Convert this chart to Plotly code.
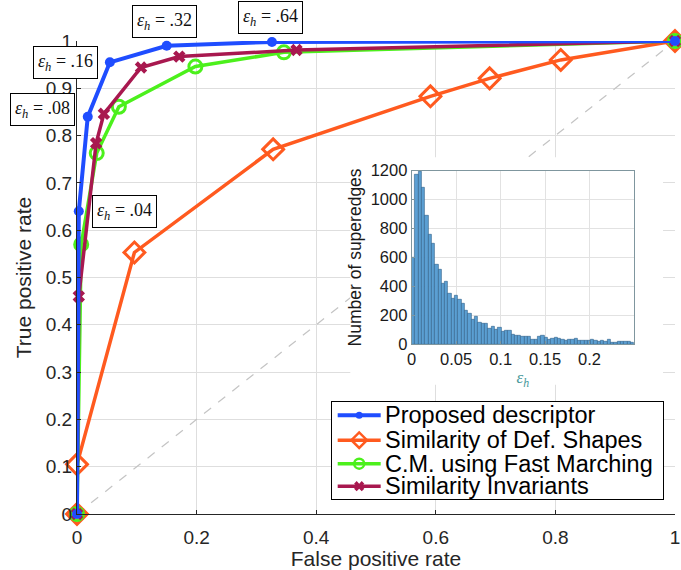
import numpy as np
import plotly.graph_objects as go

# ROC curves (false positive rate, true positive rate)
fpr_proposed = [0, 0.003, 0.018, 0.055, 0.15, 0.326, 1]
tpr_proposed = [0, 0.64, 0.84, 0.955, 0.99, 0.998, 1]

fpr_defshapes = [0, 0.0, 0.096, 0.328, 0.591, 0.69, 0.809, 1]
tpr_defshapes = [0, 0.105, 0.553, 0.771, 0.883, 0.921, 0.96, 1]

fpr_fastmarch = [0, 0.007, 0.033, 0.07, 0.198, 0.346, 1]
tpr_fastmarch = [0, 0.57, 0.763, 0.861, 0.946, 0.976, 1]

fpr_invariants = [0, 0.003, 0.032, 0.045, 0.107, 0.171, 0.367, 1]
tpr_invariants = [0, 0.46, 0.784, 0.846, 0.944, 0.967, 0.981, 1]

series_names = ["Proposed descriptor", "Similarity of Def. Shapes",
                "C.M. using Fast Marching", "Similarity Invariants"]

# threshold labels for points 1..5 of the proposed descriptor curve
eps_labels = [".04", ".08", ".16", ".32", ".64"]
eps_shift = [(46, 0), (-45, 7), (-44, 0), (-2, 24), (-1, 24)]

# histogram of epsilon_h over superedges (counts per bin, bins span 0..0.25)
eps_counts = [600, 1175, 1190, 1080, 890, 755, 695, 548, 515, 420,
              430, 352, 318, 336, 306, 283, 233, 210, 173, 191,
              152, 145, 143, 110, 122, 104, 115, 88, 92, 92,
              64, 58, 60, 53, 55, 52, 32, 35, 50, 58,
              45, 32, 40, 45, 40, 35, 28, 34, 30, 36,
              28, 22, 27, 25, 30, 22, 18, 26, 20, 33,
              8, 10, 16, 18, 15, 17, 14]
eps_range = (0.0, 0.25)

edges = np.linspace(eps_range[0], eps_range[1], len(eps_counts) + 1)
centers = 0.5 * (edges[:-1] + edges[1:])
bin_w = edges[1] - edges[0]

C_BLUE = "#1f4dff"
C_ORANGE = "#ff5a1f"
C_GREEN = "#4cf01c"
C_CRIMSON = "#a8184f"
AX = "#262626"
GRID = "#dedede"

styles = {
    "Proposed descriptor": dict(color=C_BLUE, width=4, symbol="circle", size=10, lw=0, ksize=7),
    "Similarity of Def. Shapes": dict(color=C_ORANGE, width=3.5, symbol="diamond-open", size=16, lw=3, ksize=12),
    "C.M. using Fast Marching": dict(color=C_GREEN, width=3.5, symbol="circle-open", size=13, lw=3, ksize=10),
    "Similarity Invariants": dict(color=C_CRIMSON, width=3.5, symbol="x", size=11, lw=0, ksize=9),
}
curves = {
    "Proposed descriptor": (fpr_proposed, tpr_proposed),
    "Similarity of Def. Shapes": (fpr_defshapes, tpr_defshapes),
    "C.M. using Fast Marching": (fpr_fastmarch, tpr_fastmarch),
    "Similarity Invariants": (fpr_invariants, tpr_invariants),
}

fig = go.Figure()

# draw order: proposed descriptor last so it sits on top
for name in ["Similarity of Def. Shapes", "C.M. using Fast Marching",
             "Similarity Invariants", "Proposed descriptor"]:
    st = styles[name]
    xs, ys = curves[name]
    fig.add_trace(go.Scatter(
        x=xs, y=ys, mode="lines+markers", name=name, cliponaxis=False,
        showlegend=False,
        line=dict(color=st["color"], width=st["width"]),
        marker=dict(symbol=st["symbol"], size=st["size"], color=st["color"],
                    line=dict(width=st["lw"], color=st["color"])),
    ))

# inset histogram
fig.add_trace(go.Bar(
    x=centers, y=eps_counts, width=bin_w, xaxis="x2", yaxis="y2",
    showlegend=False,
    marker=dict(color="#5b9fd3", line=dict(color="#2f5f86", width=0.6)),
))

# legend panel: compact key drawn in its own small axes (pixel-like units)
LEG_W, LEG_H = 331.6, 97.6
row_y = [13.5, 38.5, 62.0, 84.5]
key_x0, key_xm, key_x1, text_x = 6, 27.5, 49, 51
for name, ry in zip(series_names, row_y):
    st = styles[name]
    fig.add_trace(go.Scatter(
        x=[key_x0, key_x1], y=[ry, ry], mode="lines", xaxis="x3", yaxis="y3",
        showlegend=False, hoverinfo="skip",
        line=dict(color=st["color"], width=st["width"]),
    ))
    fig.add_trace(go.Scatter(
        x=[key_xm], y=[ry], mode="markers", xaxis="x3", yaxis="y3",
        showlegend=False, hoverinfo="skip", cliponaxis=False,
        marker=dict(symbol=st["symbol"], size=st["ksize"], color=st["color"],
                    line=dict(width=min(st["lw"], 2.5), color=st["color"])),
    ))
    fig.add_annotation(
        x=text_x, y=ry, xref="x3", yref="y3", text=name, showarrow=False,
        xanchor="left", yanchor="middle",
        font=dict(family="Liberation Sans, Arial, sans-serif", size=23.5, color="#000000"),
    )

for i, (lab, (dx, dy)) in enumerate(zip(eps_labels, eps_shift), start=1):
    fig.add_annotation(
        x=fpr_proposed[i], y=tpr_proposed[i], xref="x", yref="y",
        text="<i>ε</i><sub><i>h</i></sub> = " + lab, showarrow=False,
        xanchor="center", yanchor="middle", xshift=dx, yshift=dy,
        font=dict(family="Liberation Serif", size=18, color="#111111"),
        bordercolor="#000000", borderwidth=1, borderpad=4, bgcolor="white",
    )

# chance diagonal, then white panels behind the inset and the legend
fig.add_shape(type="line", xref="x", yref="y", x0=0, y0=0, x1=1, y1=1,
              line=dict(color="#c4c4c4", width=1.2, dash="dash"), layer="between")
fig.add_shape(type="rect", xref="x", yref="y", x0=0.457, x1=0.98, y0=0.273, y1=0.754,
              line=dict(width=0), fillcolor="white", layer="between")
fig.add_shape(type="rect", xref="x", yref="y", x0=0.426, x1=0.98, y0=0.031, y1=0.2376,
              line=dict(width=0), fillcolor="white", layer="between")

fig.update_layout(
    width=681, height=570,
    margin=dict(l=77, r=6, t=41, b=56, autoexpand=False),
    paper_bgcolor="white", plot_bgcolor="white",
    font=dict(family="Liberation Sans, Arial, sans-serif", color=AX),
    showlegend=False,
    xaxis=dict(
        range=[0, 1], dtick=0.2, tick0=0, showgrid=True, gridcolor=GRID,
        showline=True, linecolor=AX, linewidth=1, zeroline=False, automargin=False,
        ticks="inside", ticklen=4, tickcolor=AX, ticklabelstandoff=6,
        ticklabeloverflow="allow",
        tickfont=dict(size=19), title=dict(text="False positive rate", font=dict(size=21), standoff=12),
    ),
    yaxis=dict(
        range=[0, 1], dtick=0.1, tick0=0, showgrid=True, gridcolor=GRID,
        showline=True, linecolor=AX, linewidth=1, zeroline=False, automargin=False,
        ticks="inside", ticklen=4, tickcolor=AX, ticklabeloverflow="allow",
        tickfont=dict(size=19), title=dict(text="True positive rate", font=dict(size=21), standoff=8),
    ),
    xaxis2=dict(
        domain=[0.5597, 0.9314], anchor="y2", range=[0, 0.25], automargin=False,
        tickvals=[0, 0.05, 0.1, 0.15, 0.2], ticktext=["0", "0.05", "0.1", "0.15", "0.2"],
        showgrid=True, gridcolor="#e2e2e2", zeroline=False,
        showline=True, mirror=True, linecolor="#7f969e", linewidth=1,
        ticks="inside", ticklen=3, tickcolor="#7f969e",
        tickfont=dict(size=16.5, color="#1a1a1a"),
        title=dict(text="<i>ε<sub>h</sub></i>", font=dict(family="Liberation Serif", size=17, color="#4a9a9c"), standoff=4),
    ),
    yaxis2=dict(
        domain=[0.359, 0.726], anchor="x2", range=[0, 1200], dtick=200, automargin=False,
        showgrid=True, gridcolor="#e2e2e2", zeroline=False,
        showline=True, mirror=True, linecolor="#7f969e", linewidth=1,
        ticks="inside", ticklen=3, tickcolor="#7f969e",
        tickfont=dict(size=16.5, color="#1a1a1a"),
        title=dict(text="Number of superedges", font=dict(size=17.5, color="#1a1a1a"), standoff=4),
    ),
    xaxis3=dict(
        domain=[0.4259, 0.9804], anchor="y3", range=[0, LEG_W], automargin=False,
        showgrid=False, zeroline=False, showticklabels=False, ticks="",
        showline=True, mirror=True, linecolor="#000000", linewidth=1, fixedrange=True,
    ),
    yaxis3=dict(
        domain=[0.0311, 0.2374], anchor="x3", range=[LEG_H, 0], automargin=False,
        showgrid=False, zeroline=False, showticklabels=False, ticks="",
        showline=True, mirror=True, linecolor="#000000", linewidth=1, fixedrange=True,
    ),
    bargap=0,
)

fig.write_html("out.html")
